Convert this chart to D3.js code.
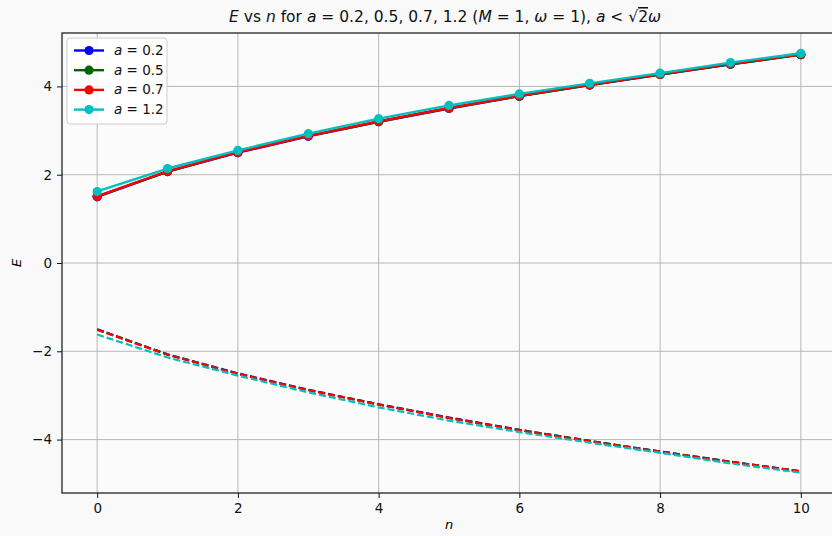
<!DOCTYPE html>
<html>
<head>
<meta charset="utf-8">
<script src="https://cdn.jsdelivr.net/npm/d3@7"></script>
<style>
  body { margin: 0; background: #f9f9f9; }
  svg { display: block; font-family: "DejaVu Sans", sans-serif; }
</style>
</head>
<body>
<svg id="chart" width="832" height="536"></svg>
<script>
// values
const nValues = [0, 1, 2, 3, 4, 5, 6, 7, 8, 9, 10];
const aValues = [0.2, 0.5, 0.7, 1.2];
const colors = ["#0000ff", "#006400", "#ff0000", "#00bfbf"];

// positive branch (solid, with markers)
const ePlusA02 = [1.50, 2.07, 2.50, 2.87, 3.20, 3.50, 3.78, 4.03, 4.27, 4.50, 4.72];
const ePlusA05 = [1.51, 2.07, 2.51, 2.88, 3.20, 3.51, 3.78, 4.03, 4.27, 4.50, 4.72];
const ePlusA07 = [1.51, 2.08, 2.51, 2.88, 3.21, 3.51, 3.79, 4.04, 4.28, 4.51, 4.73];
const ePlusA12 = [1.62, 2.14, 2.55, 2.93, 3.27, 3.57, 3.83, 4.07, 4.30, 4.54, 4.75];

// negative branch (dashed)
const eMinusA02 = [-1.50, -2.07, -2.50, -2.87, -3.20, -3.50, -3.78, -4.03, -4.27, -4.50, -4.72];
const eMinusA05 = [-1.51, -2.07, -2.51, -2.88, -3.20, -3.51, -3.78, -4.03, -4.27, -4.50, -4.72];
const eMinusA07 = [-1.51, -2.08, -2.51, -2.88, -3.21, -3.51, -3.79, -4.04, -4.28, -4.51, -4.72];
const eMinusA12 = [-1.62, -2.14, -2.55, -2.93, -3.27, -3.57, -3.83, -4.07, -4.30, -4.54, -4.75];

const xTicks = [0, 2, 4, 6, 8, 10];
const yTicks = [-4, -2, 0, 2, 4];

const plusSeries = [ePlusA02, ePlusA05, ePlusA07, ePlusA12];
const minusSeries = [eMinusA02, eMinusA05, eMinusA07, eMinusA12];

const svg = d3.select("#chart");
const margin = {left: 62, top: 33, right: 836, bottom: 493};

const x = d3.scaleLinear().domain([-0.5, 10.5]).range([margin.left, margin.right]);
const y = d3.scaleLinear().domain([-5.21, 5.21]).range([margin.bottom, margin.top]);

// axes background
svg.append("rect")
    .attr("x", margin.left).attr("y", margin.top)
    .attr("width", margin.right - margin.left)
    .attr("height", margin.bottom - margin.top)
    .attr("fill", "#fbfbfb");

// grid
const grid = svg.append("g").attr("stroke", "#b8b8b8").attr("stroke-width", 1);
grid.selectAll("line.gx").data(xTicks).join("line")
    .attr("x1", d => x(d)).attr("x2", d => x(d))
    .attr("y1", margin.top).attr("y2", margin.bottom);
grid.selectAll("line.gy").data(yTicks).join("line")
    .attr("x1", margin.left).attr("x2", margin.right)
    .attr("y1", d => y(d)).attr("y2", d => y(d));

svg.append("clipPath").attr("id", "clip")
  .append("rect")
    .attr("x", margin.left).attr("y", margin.top)
    .attr("width", margin.right - margin.left)
    .attr("height", margin.bottom - margin.top);

const line = d3.line()
    .x((d, i) => x(nValues[i]))
    .y(d => y(d));

const plot = svg.append("g").attr("clip-path", "url(#clip)");

plusSeries.forEach((s, k) => {
  const g = plot.append("g");
  g.append("path")
      .datum(s)
      .attr("fill", "none")
      .attr("stroke", colors[k])
      .attr("stroke-width", 2.4)
      .attr("stroke-linejoin", "round")
      .attr("d", line);
  g.selectAll("circle").data(s).join("circle")
      .attr("cx", (d, i) => x(nValues[i]))
      .attr("cy", d => y(d))
      .attr("r", 4.6)
      .attr("fill", colors[k]);
});

minusSeries.forEach((s, k) => {
  plot.append("path")
      .datum(s)
      .attr("fill", "none")
      .attr("stroke", colors[k])
      .attr("stroke-width", 2.2)
      .attr("stroke-dasharray", "7,3")
      .attr("d", line);
});

// frame
svg.append("rect")
    .attr("x", margin.left).attr("y", margin.top)
    .attr("width", margin.right - margin.left)
    .attr("height", margin.bottom - margin.top)
    .attr("fill", "none")
    .attr("stroke", "#111")
    .attr("stroke-width", 1.2);

// axes
const xAxis = svg.append("g")
    .attr("transform", "translate(0," + margin.bottom + ")")
    .call(d3.axisBottom(x).tickValues(xTicks).tickSize(5).tickPadding(5).tickFormat(d3.format("d")));
const yAxis = svg.append("g")
    .attr("transform", "translate(" + margin.left + ",0)")
    .call(d3.axisLeft(y).tickValues(yTicks).tickSize(5).tickPadding(5).tickFormat(d3.format("d")));
[xAxis, yAxis].forEach(a => {
  a.select(".domain").remove();
  a.selectAll(".tick line").attr("stroke", "#111").attr("stroke-width", 1);
  a.selectAll(".tick text").attr("fill", "#111").style("font-size", "13.5px")
      .style("font-family", "DejaVu Sans, sans-serif");
});

// axis labels
svg.append("text")
    .attr("x", x(5)).attr("y", 529)
    .attr("text-anchor", "middle")
    .style("font-size", "13px").style("font-style", "italic")
    .text("n");
svg.append("text")
    .attr("transform", "translate(21," + y(0) + ") rotate(-90)")
    .attr("text-anchor", "middle")
    .style("font-size", "13px").style("font-style", "italic")
    .text("E");

// title
const title = svg.append("text")
    .attr("x", (margin.left + margin.right) / 2 - 4)
    .attr("y", 22)
    .attr("text-anchor", "middle")
    .style("font-size", "15.5px")
    .attr("fill", "#111");
const parts = [
  ["E", true], [" vs ", false], ["n", true], [" for ", false], ["a", true],
  [" = 0.2, 0.5, 0.7, 1.2 (", false], ["M", true], [" = 1, ", false], ["ω", true],
  [" = 1), ", false], ["a", true], [" < √", false]
];
parts.forEach(p => {
  title.append("tspan").style("font-style", p[1] ? "italic" : "normal").text(p[0]);
});
title.append("tspan").style("text-decoration", "overline").text("2");
title.append("tspan").style("font-style", "italic").text("ω");

// legend
const legend = svg.append("g").attr("transform", "translate(67,38)");
legend.append("rect")
    .attr("width", 100).attr("height", 86)
    .attr("rx", 3)
    .attr("fill", "#ffffff").attr("fill-opacity", 0.85)
    .attr("stroke", "#cccccc");
aValues.forEach((a, k) => {
  const row = legend.append("g").attr("transform", "translate(0," + (12.5 + k * 19.7) + ")");
  row.append("line")
      .attr("x1", 7).attr("x2", 37)
      .attr("stroke", colors[k]).attr("stroke-width", 2.4);
  row.append("circle").attr("cx", 22).attr("r", 4.6).attr("fill", colors[k]);
  const t = row.append("text")
      .attr("x", 47).attr("y", 4.5)
      .style("font-size", "13.5px").attr("fill", "#111");
  t.append("tspan").style("font-style", "italic").text("a");
  t.append("tspan").text(" = " + a);
});
</script>
</body>
</html>
